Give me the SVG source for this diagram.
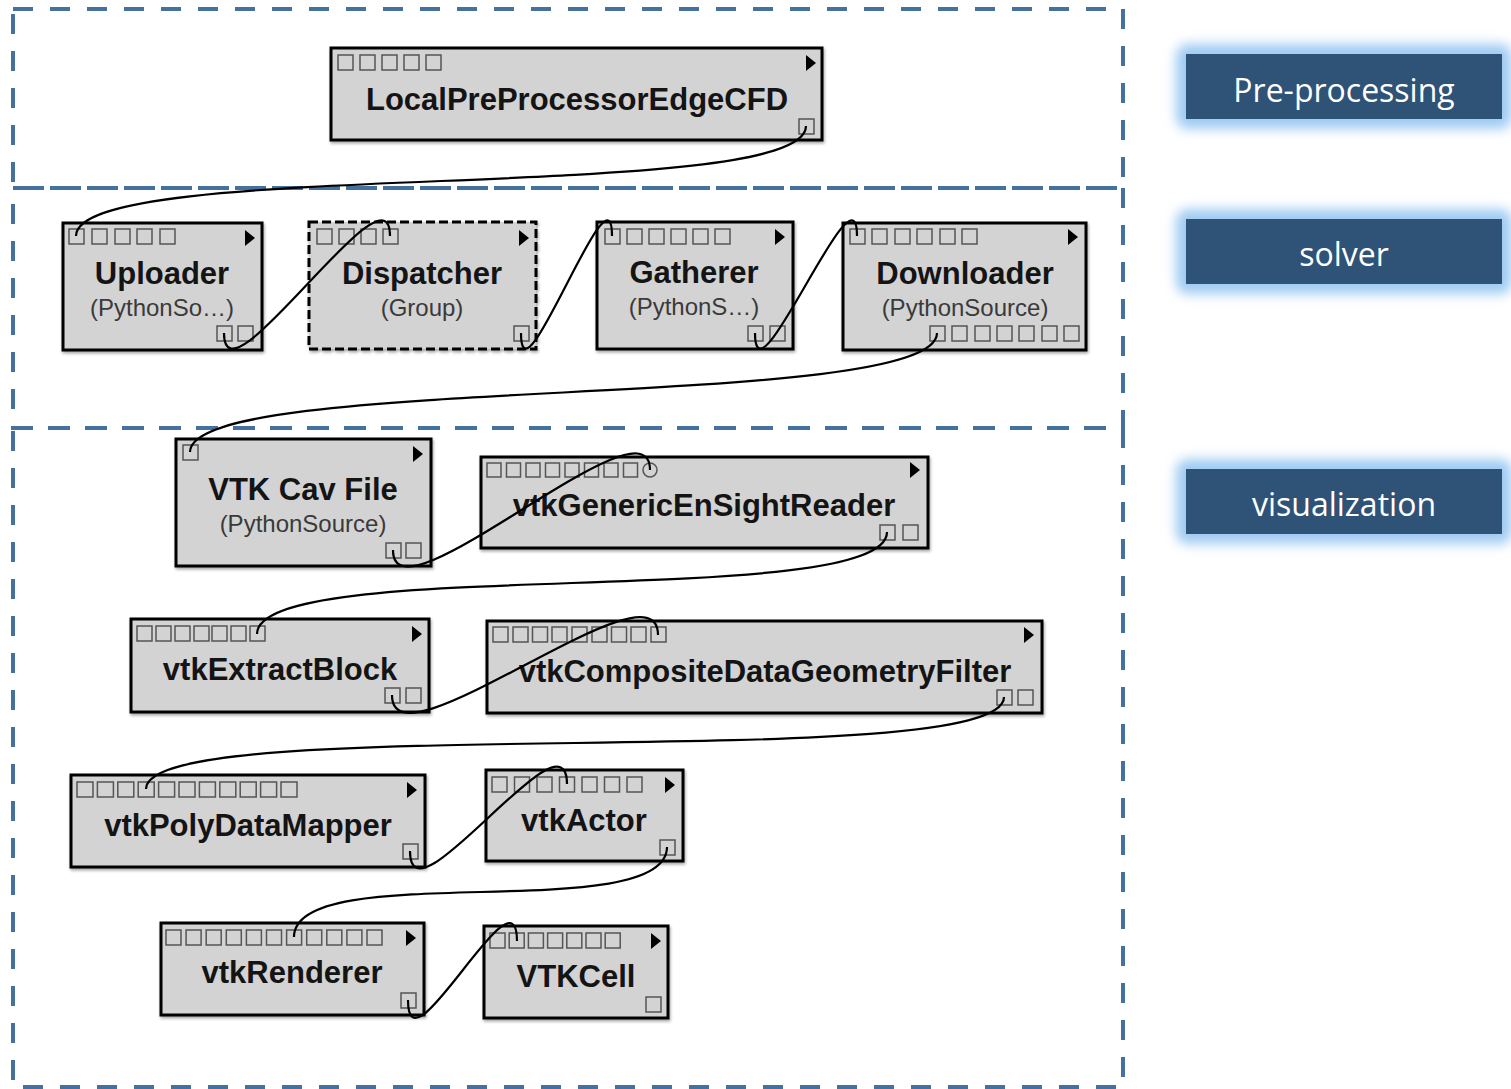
<svg xmlns="http://www.w3.org/2000/svg" width="1511" height="1089" viewBox="0 0 1511 1089">
  <defs>
    <filter id="glow" x="-20%" y="-60%" width="140%" height="220%">
      <feGaussianBlur stdDeviation="6"/>
    </filter>
    <filter id="shade" x="-5%" y="-5%" width="110%" height="115%">
      <feGaussianBlur in="SourceAlpha" stdDeviation="1.5"/>
      <feOffset dx="1" dy="2" result="b"/>
      <feComponentTransfer><feFuncA type="linear" slope="0.35"/></feComponentTransfer>
      <feMerge><feMergeNode/><feMergeNode in="SourceGraphic"/></feMerge>
    </filter>
  </defs>
  <style>
    .frame { fill: none; stroke: #44719d; stroke-width: 4; stroke-dasharray: 20 17; }
    .box { fill: #d3d3d3; stroke: #000; stroke-width: 3; }
    .group { stroke-dasharray: 9 4; }
    .port { fill: none; stroke: #555; stroke-width: 1.5; }
    .tri { fill: #000; }
    .title { font-family: "Liberation Sans", Arial, sans-serif; font-weight: bold; font-size: 31px; fill: #141414; text-anchor: middle; }
    .sub { font-family: "Liberation Sans", Arial, sans-serif; font-size: 24px; fill: #3a3a3a; text-anchor: middle; }
    .tag { fill: #2f5277; }
    .halo { fill: #9fcbf2; }
    .tagtext { font-family: "Open Sans", "Noto Sans", sans-serif; font-size: 32px; fill: #fff; text-anchor: middle; }
    #connectors path { fill: none; stroke: #000; stroke-width: 2.2; }
  </style>

  <rect width="1511" height="1089" fill="#fff"/>

  <!-- stage frames -->
  <g id="frames">
    <rect class="frame" x="13" y="9" width="1110" height="179"/>
    <rect class="frame" x="13" y="188" width="1110" height="240"/>
    <rect class="frame" x="13" y="428" width="1110" height="659"/>
  </g>

  <!-- stage tags -->
  <g id="tag-preprocessing">
    <rect class="halo" x="1176" y="44" width="336" height="85" rx="12" filter="url(#glow)"/>
    <rect class="tag" x="1186" y="54" width="316" height="65"/>
    <text class="tagtext" x="1344" y="102">Pre-processing</text>
  </g>
  <g id="tag-solver">
    <rect class="halo" x="1176" y="209" width="336" height="85" rx="12" filter="url(#glow)"/>
    <rect class="tag" x="1186" y="219" width="316" height="65"/>
    <text class="tagtext" x="1344" y="266">solver</text>
  </g>
  <g id="tag-visualization">
    <rect class="halo" x="1176" y="459" width="336" height="85" rx="12" filter="url(#glow)"/>
    <rect class="tag" x="1186" y="469" width="316" height="65"/>
    <text class="tagtext" x="1344" y="516">visualization</text>
  </g>

  <!-- modules -->
  <g id="LocalPreProcessorEdgeCFD">
    <rect class="box" x="331" y="48" width="491" height="92" filter="url(#shade)"/>
    <rect class="port" x="338" y="55" width="15" height="15"/>
    <rect class="port" x="360" y="55" width="15" height="15"/>
    <rect class="port" x="382" y="55" width="15" height="15"/>
    <rect class="port" x="404" y="55" width="15" height="15"/>
    <rect class="port" x="426" y="55" width="15" height="15"/>
    <polygon class="tri" points="806,55 816,63 806,71"/>
    <rect class="port" x="799" y="119" width="15" height="15"/>
    <text class="title" x="577" y="110">LocalPreProcessorEdgeCFD</text>
  </g>

  <g id="Uploader">
    <rect class="box" x="63" y="223" width="199" height="127" filter="url(#shade)"/>
    <rect class="port" x="69" y="229" width="15" height="15"/>
    <rect class="port" x="92" y="229" width="15" height="15"/>
    <rect class="port" x="115" y="229" width="15" height="15"/>
    <rect class="port" x="137" y="229" width="15" height="15"/>
    <rect class="port" x="160" y="229" width="15" height="15"/>
    <polygon class="tri" points="245,230 255,238 245,246"/>
    <rect class="port" x="217" y="326" width="15" height="15"/>
    <rect class="port" x="238" y="326" width="15" height="15"/>
    <text class="title" x="162" y="284">Uploader</text>
    <text class="sub" x="162" y="316">(PythonSo…)</text>
  </g>

  <g id="Dispatcher">
    <rect class="box group" x="309" y="222" width="227" height="127" filter="url(#shade)"/>
    <rect class="port" x="317" y="229" width="15" height="15"/>
    <rect class="port" x="339" y="229" width="15" height="15"/>
    <rect class="port" x="361" y="229" width="15" height="15"/>
    <rect class="port" x="383" y="229" width="15" height="15"/>
    <polygon class="tri" points="519,230 529,238 519,246"/>
    <rect class="port" x="514" y="326" width="15" height="15"/>
    <text class="title" x="422" y="284">Dispatcher</text>
    <text class="sub" x="422" y="316">(Group)</text>
  </g>

  <g id="Gatherer">
    <rect class="box" x="597" y="222" width="196" height="127" filter="url(#shade)"/>
    <rect class="port" x="605" y="229" width="15" height="15"/>
    <rect class="port" x="627" y="229" width="15" height="15"/>
    <rect class="port" x="649" y="229" width="15" height="15"/>
    <rect class="port" x="671" y="229" width="15" height="15"/>
    <rect class="port" x="693" y="229" width="15" height="15"/>
    <rect class="port" x="715" y="229" width="15" height="15"/>
    <polygon class="tri" points="775,229 785,237 775,245"/>
    <rect class="port" x="748" y="326" width="15" height="15"/>
    <rect class="port" x="770" y="326" width="15" height="15"/>
    <text class="title" x="694" y="283">Gatherer</text>
    <text class="sub" x="694" y="315">(PythonS…)</text>
  </g>

  <g id="Downloader">
    <rect class="box" x="843" y="223" width="243" height="127" filter="url(#shade)"/>
    <rect class="port" x="850" y="229" width="15" height="15"/>
    <rect class="port" x="872" y="229" width="15" height="15"/>
    <rect class="port" x="895" y="229" width="15" height="15"/>
    <rect class="port" x="917" y="229" width="15" height="15"/>
    <rect class="port" x="940" y="229" width="15" height="15"/>
    <rect class="port" x="962" y="229" width="15" height="15"/>
    <polygon class="tri" points="1068,229 1078,237 1068,245"/>
    <rect class="port" x="930" y="326" width="15" height="15"/>
    <rect class="port" x="952" y="326" width="15" height="15"/>
    <rect class="port" x="975" y="326" width="15" height="15"/>
    <rect class="port" x="997" y="326" width="15" height="15"/>
    <rect class="port" x="1019" y="326" width="15" height="15"/>
    <rect class="port" x="1042" y="326" width="15" height="15"/>
    <rect class="port" x="1064" y="326" width="15" height="15"/>
    <text class="title" x="965" y="284">Downloader</text>
    <text class="sub" x="965" y="316">(PythonSource)</text>
  </g>

  <g id="VTKCavFile">
    <rect class="box" x="176" y="439" width="255" height="127" filter="url(#shade)"/>
    <rect class="port" x="183" y="445" width="15" height="15"/>
    <polygon class="tri" points="413,446 423,454 413,462"/>
    <rect class="port" x="386" y="543" width="15" height="15"/>
    <rect class="port" x="406" y="543" width="15" height="15"/>
    <text class="title" x="303" y="500">VTK Cav File</text>
    <text class="sub" x="303" y="532">(PythonSource)</text>
  </g>

  <g id="vtkGenericEnSightReader">
    <rect class="box" x="481" y="457" width="447" height="91" filter="url(#shade)"/>
    <rect class="port" x="487" y="463" width="14" height="14"/>
    <rect class="port" x="506.5" y="463" width="14" height="14"/>
    <rect class="port" x="526" y="463" width="14" height="14"/>
    <rect class="port" x="545.5" y="463" width="14" height="14"/>
    <rect class="port" x="565" y="463" width="14" height="14"/>
    <rect class="port" x="584.5" y="463" width="14" height="14"/>
    <rect class="port" x="604" y="463" width="14" height="14"/>
    <rect class="port" x="623.5" y="463" width="14" height="14"/>
    <circle class="port" cx="650" cy="470" r="7"/>
    <polygon class="tri" points="910,462 920,470 910,478"/>
    <rect class="port" x="880" y="525" width="15" height="15"/>
    <rect class="port" x="903" y="525" width="15" height="15"/>
    <text class="title" x="704" y="516">vtkGenericEnSightReader</text>
  </g>

  <g id="vtkExtractBlock">
    <rect class="box" x="131" y="619" width="298" height="93" filter="url(#shade)"/>
    <rect class="port" x="137" y="626" width="15" height="15"/>
    <rect class="port" x="156" y="626" width="15" height="15"/>
    <rect class="port" x="175" y="626" width="15" height="15"/>
    <rect class="port" x="194" y="626" width="15" height="15"/>
    <rect class="port" x="212" y="626" width="15" height="15"/>
    <rect class="port" x="231" y="626" width="15" height="15"/>
    <rect class="port" x="250" y="626" width="15" height="15"/>
    <polygon class="tri" points="412,626 422,634 412,642"/>
    <rect class="port" x="385" y="688" width="15" height="15"/>
    <rect class="port" x="406" y="688" width="15" height="15"/>
    <text class="title" x="280" y="680">vtkExtractBlock</text>
  </g>

  <g id="vtkCompositeDataGeometryFilter">
    <rect class="box" x="487" y="621" width="555" height="92" filter="url(#shade)"/>
    <rect class="port" x="493" y="627" width="15" height="15"/>
    <rect class="port" x="513" y="627" width="15" height="15"/>
    <rect class="port" x="532.5" y="627" width="15" height="15"/>
    <rect class="port" x="552" y="627" width="15" height="15"/>
    <rect class="port" x="572" y="627" width="15" height="15"/>
    <rect class="port" x="592" y="627" width="15" height="15"/>
    <rect class="port" x="611.5" y="627" width="15" height="15"/>
    <rect class="port" x="631" y="627" width="15" height="15"/>
    <rect class="port" x="651" y="627" width="15" height="15"/>
    <polygon class="tri" points="1024,627 1034,635 1024,643"/>
    <rect class="port" x="997" y="690" width="15" height="15"/>
    <rect class="port" x="1018" y="690" width="15" height="15"/>
    <text class="title" x="765" y="682">vtkCompositeDataGeometryFilter</text>
  </g>

  <g id="vtkPolyDataMapper">
    <rect class="box" x="71" y="775" width="354" height="92" filter="url(#shade)"/>
    <rect class="port" x="77" y="782" width="16" height="15"/>
    <rect class="port" x="97.4" y="782" width="16" height="15"/>
    <rect class="port" x="117.8" y="782" width="16" height="15"/>
    <rect class="port" x="138.2" y="782" width="16" height="15"/>
    <rect class="port" x="158.6" y="782" width="16" height="15"/>
    <rect class="port" x="179" y="782" width="16" height="15"/>
    <rect class="port" x="199.4" y="782" width="16" height="15"/>
    <rect class="port" x="219.8" y="782" width="16" height="15"/>
    <rect class="port" x="240.2" y="782" width="16" height="15"/>
    <rect class="port" x="260.6" y="782" width="16" height="15"/>
    <rect class="port" x="281" y="782" width="16" height="15"/>
    <polygon class="tri" points="407,782 417,790 407,798"/>
    <rect class="port" x="403" y="844" width="15" height="15"/>
    <text class="title" x="248" y="836">vtkPolyDataMapper</text>
  </g>

  <g id="vtkActor">
    <rect class="box" x="486" y="770" width="197" height="91" filter="url(#shade)"/>
    <rect class="port" x="492" y="777" width="15" height="15"/>
    <rect class="port" x="514.5" y="777" width="15" height="15"/>
    <rect class="port" x="537" y="777" width="15" height="15"/>
    <rect class="port" x="559.5" y="777" width="15" height="15"/>
    <rect class="port" x="582" y="777" width="15" height="15"/>
    <rect class="port" x="604.5" y="777" width="15" height="15"/>
    <rect class="port" x="627" y="777" width="15" height="15"/>
    <polygon class="tri" points="665,777 675,785 665,793"/>
    <rect class="port" x="660" y="840" width="15" height="15"/>
    <text class="title" x="584" y="831">vtkActor</text>
  </g>

  <g id="vtkRenderer">
    <rect class="box" x="161" y="923" width="263" height="92" filter="url(#shade)"/>
    <rect class="port" x="166" y="930" width="15" height="15"/>
    <rect class="port" x="186.1" y="930" width="15" height="15"/>
    <rect class="port" x="206.2" y="930" width="15" height="15"/>
    <rect class="port" x="226.3" y="930" width="15" height="15"/>
    <rect class="port" x="246.4" y="930" width="15" height="15"/>
    <rect class="port" x="266.5" y="930" width="15" height="15"/>
    <rect class="port" x="286.6" y="930" width="15" height="15"/>
    <rect class="port" x="306.7" y="930" width="15" height="15"/>
    <rect class="port" x="326.8" y="930" width="15" height="15"/>
    <rect class="port" x="346.9" y="930" width="15" height="15"/>
    <rect class="port" x="367" y="930" width="15" height="15"/>
    <polygon class="tri" points="406,930 416,938 406,946"/>
    <rect class="port" x="401" y="993" width="15" height="15"/>
    <text class="title" x="292" y="983">vtkRenderer</text>
  </g>

  <g id="VTKCell">
    <rect class="box" x="484" y="926" width="184" height="92" filter="url(#shade)"/>
    <rect class="port" x="490" y="933" width="15" height="15"/>
    <rect class="port" x="509.2" y="933" width="15" height="15"/>
    <rect class="port" x="528.4" y="933" width="15" height="15"/>
    <rect class="port" x="547.6" y="933" width="15" height="15"/>
    <rect class="port" x="566.8" y="933" width="15" height="15"/>
    <rect class="port" x="586" y="933" width="15" height="15"/>
    <rect class="port" x="605.2" y="933" width="15" height="15"/>
    <polygon class="tri" points="651,933 661,941 651,949"/>
    <rect class="port" x="646" y="997" width="15" height="15"/>
    <text class="title" x="576" y="987">VTKCell</text>
  </g>

  <!-- connections: output port centre to input port centre -->
  <g id="connectors">
    <path d="M806,126 C806,206 76,156 76,236"/>
    <path d="M224,333 C224,413 390,156 390,236"/>
    <path d="M521,333 C521,413 612,156 612,236"/>
    <path d="M755,333 C755,413 857,156 857,236"/>
    <path d="M937,333 C937,413 190,372 190,452"/>
    <path d="M393,550 C393,630 650,390 650,470"/>
    <path d="M887,532 C887,612 257,554 257,634"/>
    <path d="M392,695 C392,775 658,555 658,635"/>
    <path d="M1004,697 C1004,777 146,709 146,789"/>
    <path d="M410,851 C410,931 567,704 567,784"/>
    <path d="M667,847 C667,927 294,857 294,937"/>
    <path d="M408,1000 C408,1080 517,861 517,941"/>
  </g>
</svg>
